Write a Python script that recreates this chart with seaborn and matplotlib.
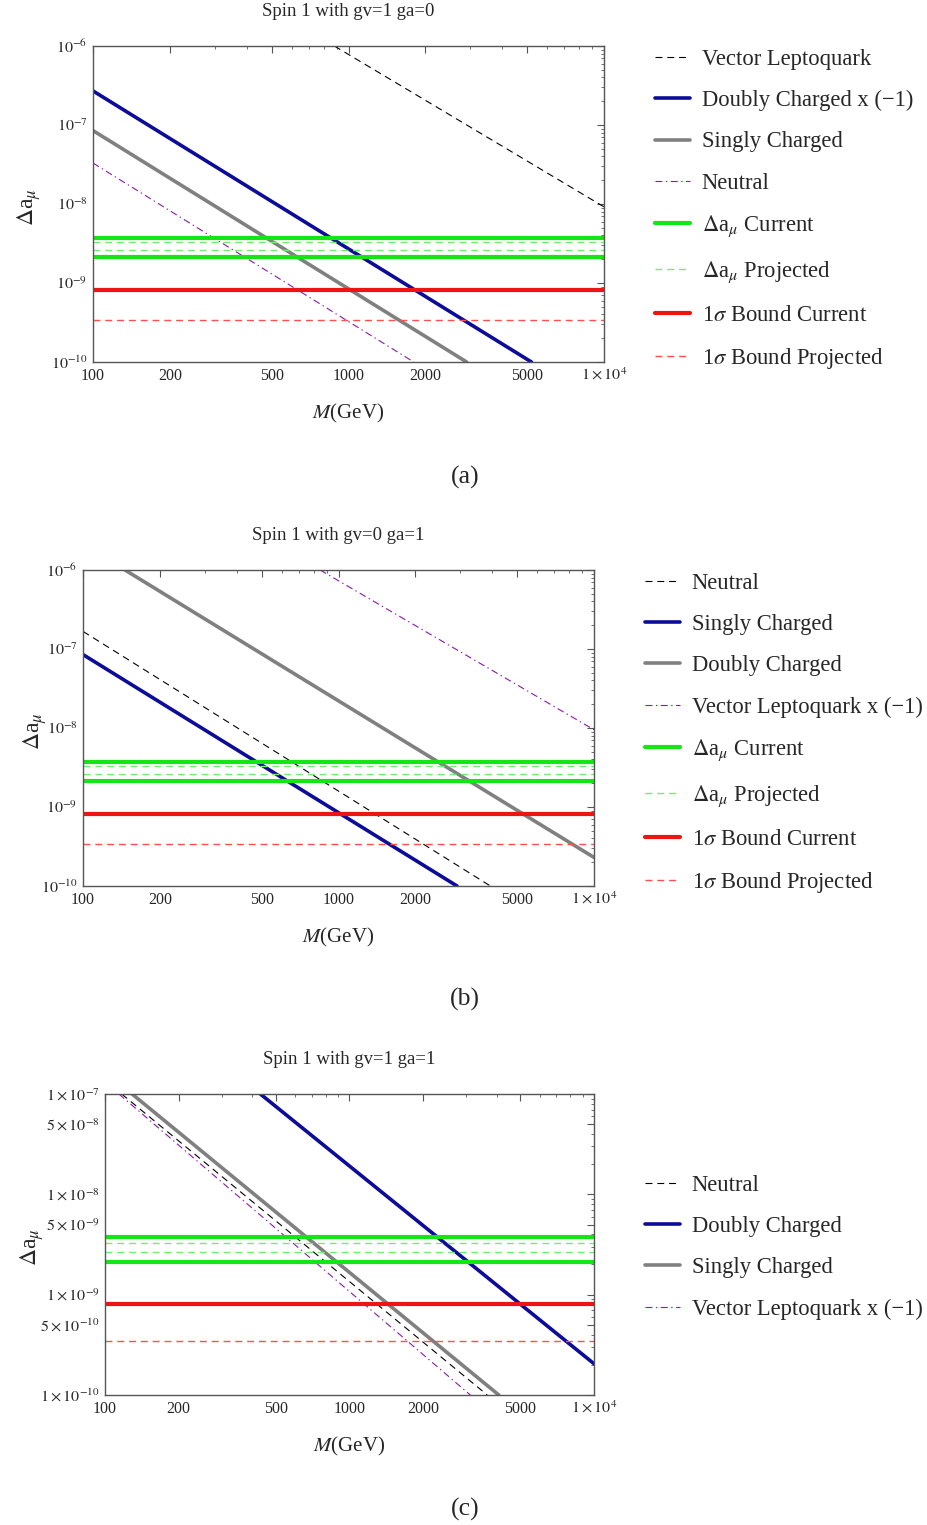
import numpy as np
import pandas as pd
import seaborn as sns
import matplotlib
matplotlib.use("Agg")
import matplotlib.pyplot as plt
from matplotlib.ticker import FixedLocator, FixedFormatter, LogLocator, NullFormatter
from matplotlib.lines import Line2D

# ---------------- data ----------------
# horizontal reference bands (shared by all panels)
da_current = [3.75e-9, 2.12e-9]
da_projected = [3.30e-9, 2.64e-9]
bound_current = [8.05e-10]
bound_projected = [3.42e-10]

# panel (a): Spin 1 with gv=1 ga=0
a_vlq_M = [880, 10000];      a_vlq_y = [1.0e-6, 9.2e-9]
a_doubly_M = [100, 5200];    a_doubly_y = [2.7e-7, 1.0e-10]
a_singly_M = [100, 2900];    a_singly_y = [8.5e-8, 1.0e-10]
a_neutral_M = [100, 1800];   a_neutral_y = [3.3e-8, 1.0e-10]

# panel (b): Spin 1 with gv=0 ga=1
b_neutral_M = [100, 3930];   b_neutral_y = [1.67e-7, 1.0e-10]
b_singly_M = [100, 2910];    b_singly_y = [8.5e-8, 1.0e-10]
b_doubly_M = [146, 10000];   b_doubly_y = [1.0e-6, 2.3e-10]
b_vlq_M = [847, 10000];      b_vlq_y = [1.0e-6, 9.5e-9]

# panel (c): Spin 1 with gv=1 ga=1
c_neutral_M = [117, 3660];   c_neutral_y = [1.0e-7, 1.0e-10]
c_doubly_M = [432, 10000];   c_doubly_y = [1.0e-7, 2.05e-10]
c_singly_M = [129, 4080];    c_singly_y = [1.0e-7, 1.0e-10]
c_vlq_M = [114, 3120];       c_vlq_y = [1.0e-7, 1.0e-10]

titles = ["Spin 1 with gv=1 ga=0", "Spin 1 with gv=0 ga=1", "Spin 1 with gv=1 ga=1"]
captions = ["(a)", "(b)", "(c)"]
x_tick_values = [100, 200, 500, 1000, 2000, 5000, 10000]
x_tick_labels = ["100", "200", "500", "1000", "2000", "5000", r"$1\times10^{4}$"]
y_tick_values_ab = [1e-10, 1e-9, 1e-8, 1e-7, 1e-6]
y_tick_labels_ab = [r"$10^{-10}$", r"$10^{-9}$", r"$10^{-8}$", r"$10^{-7}$", r"$10^{-6}$"]
y_tick_values_c = [1e-10, 5e-10, 1e-9, 5e-9, 1e-8, 5e-8, 1e-7]
y_tick_labels_c = [r"$1\times10^{-10}$", r"$5\times10^{-10}$", r"$1\times10^{-9}$",
                   r"$5\times10^{-9}$", r"$1\times10^{-8}$", r"$5\times10^{-8}$",
                   r"$1\times10^{-7}$"]

# ---------------- style ----------------
sns.set_style("white")
plt.rcParams["font.family"] = ["Liberation Serif", "DejaVu Serif"]
plt.rcParams["mathtext.fontset"] = "stix"
plt.rcParams["lines.scale_dashes"] = False

BLUE = "#0c0c98"
GRAY = "#808080"
GREEN = "#14e614"
LGREEN = "#70ee70"
RED = "#ee1414"
LRED = "#ff5050"
PURPLE = "#8a1aa8"
FRAME = "#555555"

S_BLACKDASH = dict(color="black", lw=0.8, linestyle=(0, (5, 3.5)))
S_BLUE = dict(color=BLUE, lw=2.6, linestyle="-")
S_GRAY = dict(color=GRAY, lw=2.6, linestyle="-")
S_PURPLE = dict(color=PURPLE, lw=0.8, linestyle=(0, (5, 2.5, 1, 2.5)))
S_GREEN = dict(color=GREEN, lw=3.0, linestyle="-")
S_LGREEN = dict(color=LGREEN, lw=1.0, linestyle=(0, (5, 3.5)))
S_RED = dict(color=RED, lw=3.0, linestyle="-")
S_LRED = dict(color=LRED, lw=1.0, linestyle=(0, (5, 3.5)))

W, H = 927, 1525
fig = plt.figure(figsize=(W / 100, H / 100), dpi=100)


def ax_at(left, top, right, bottom):
    return fig.add_axes([left / W, 1 - bottom / H, (right - left) / W, (bottom - top) / H])


def curve(ax, M, y, style):
    df = pd.DataFrame({"M": M, "y": y})
    sns.lineplot(data=df, x="M", y="y", ax=ax, legend=False, sort=False,
                 color=style["color"], lw=style["lw"], linestyle=style["linestyle"])


def hlines(ax, values, style):
    for v in values:
        ax.axhline(v, color=style["color"], lw=style["lw"], linestyle=style["linestyle"])


def frame(ax, ylim, ytv, ytl, ysubs, title, caption, ylab_x):
    ax.set_xscale("log")
    ax.set_yscale("log")
    ax.set_xlim(100, 10000)
    ax.set_ylim(*ylim)
    ax.xaxis.set_major_locator(FixedLocator(x_tick_values))
    ax.xaxis.set_major_formatter(FixedFormatter(x_tick_labels))
    ax.xaxis.set_minor_locator(LogLocator(base=10, subs=(3, 4, 6, 7, 8, 9)))
    ax.xaxis.set_minor_formatter(NullFormatter())
    ax.yaxis.set_major_locator(FixedLocator(ytv))
    ax.yaxis.set_major_formatter(FixedFormatter(ytl))
    ax.yaxis.set_minor_locator(LogLocator(base=10, subs=ysubs))
    ax.yaxis.set_minor_formatter(NullFormatter())
    ax.tick_params(which="both", direction="in", top=True, right=True,
                   color=FRAME, labelsize=11.5)
    ax.tick_params(which="major", length=5, width=0.8, pad=4)
    ax.tick_params(which="minor", length=2.5, width=0.6)
    for s in ax.spines.values():
        s.set_color(FRAME)
        s.set_linewidth(1.0)
    ax.set_xlabel(r"$M$(GeV)", fontsize=15, labelpad=13)
    ax.set_ylabel(r"$\Delta$a$_\mu$", fontsize=17)
    ax.yaxis.set_label_coords(ylab_x, 0.49)
    ax.text(0.5, 1 + 34 / (ax.get_position().height * H), title, transform=ax.transAxes,
            ha="center", va="center", fontsize=13.5)


def legend(ax, x, y, handles, labels):
    fig.legend(handles, labels, loc="upper left", bbox_to_anchor=(x / W, 1 - y / H),
               frameon=False, fontsize=16.3, handlelength=1.55, handletextpad=0.52,
               labelspacing=0.89, borderpad=0, borderaxespad=0)


def h(style):
    return Line2D([], [], color=style["color"], lw=style["lw"], linestyle=style["linestyle"])


band_labels = [r"$\Delta$a$_\mu$ Current", r"$\Delta$a$_\mu$ Projected",
               r"1$\sigma$ Bound Current", r"1$\sigma$ Bound Projected"]

# ---------------- panel (a) ----------------
ax = ax_at(93, 46, 604, 362)
curve(ax, a_vlq_M, a_vlq_y, S_BLACKDASH)
curve(ax, a_doubly_M, a_doubly_y, S_BLUE)
curve(ax, a_singly_M, a_singly_y, S_GRAY)
curve(ax, a_neutral_M, a_neutral_y, S_PURPLE)
hlines(ax, da_current, S_GREEN)
hlines(ax, da_projected, S_LGREEN)
hlines(ax, bound_current, S_RED)
hlines(ax, bound_projected, S_LRED)
frame(ax, (1e-10, 1e-6), y_tick_values_ab, y_tick_labels_ab, (2, 3, 4, 5, 6, 7, 8, 9),
      titles[0], captions[0], -0.098)
legend(ax, 655, 49,
       [h(S_BLACKDASH), h(S_BLUE), h(S_GRAY), h(S_PURPLE), h(S_GREEN), h(S_LGREEN), h(S_RED), h(S_LRED)],
       ["Vector Leptoquark", "Doubly Charged x (\u22121)", "Singly Charged", "Neutral"] + band_labels)
fig.text(465 / W, 1 - 477 / H, captions[0], ha="center", va="center", fontsize=18.5)

# ---------------- panel (b) ----------------
ax = ax_at(83, 570, 594, 886)
curve(ax, b_neutral_M, b_neutral_y, S_BLACKDASH)
curve(ax, b_singly_M, b_singly_y, S_BLUE)
curve(ax, b_doubly_M, b_doubly_y, S_GRAY)
curve(ax, b_vlq_M, b_vlq_y, S_PURPLE)
hlines(ax, da_current, S_GREEN)
hlines(ax, da_projected, S_LGREEN)
hlines(ax, bound_current, S_RED)
hlines(ax, bound_projected, S_LRED)
frame(ax, (1e-10, 1e-6), y_tick_values_ab, y_tick_labels_ab, (2, 3, 4, 5, 6, 7, 8, 9),
      titles[1], captions[1], -0.066)
legend(ax, 645, 573,
       [h(S_BLACKDASH), h(S_BLUE), h(S_GRAY), h(S_PURPLE), h(S_GREEN), h(S_LGREEN), h(S_RED), h(S_LRED)],
       ["Neutral", "Singly Charged", "Doubly Charged", "Vector Leptoquark x (\u22121)"] + band_labels)
fig.text(465 / W, 1 - 999 / H, captions[1], ha="center", va="center", fontsize=18.5)

# ---------------- panel (c) ----------------
ax = ax_at(105, 1094, 594, 1395)
curve(ax, c_neutral_M, c_neutral_y, S_BLACKDASH)
curve(ax, c_doubly_M, c_doubly_y, S_BLUE)
curve(ax, c_singly_M, c_singly_y, S_GRAY)
curve(ax, c_vlq_M, c_vlq_y, S_PURPLE)
hlines(ax, da_current, S_GREEN)
hlines(ax, da_projected, S_LGREEN)
hlines(ax, bound_current, S_RED)
hlines(ax, bound_projected, S_LRED)
frame(ax, (1e-10, 1e-7), y_tick_values_c, y_tick_labels_c, (2, 3, 4, 6, 7, 8, 9),
      titles[2], captions[2], -0.12)
legend(ax, 645, 1175,
       [h(S_BLACKDASH), h(S_BLUE), h(S_GRAY), h(S_PURPLE)],
       ["Neutral", "Doubly Charged", "Singly Charged", "Vector Leptoquark x (\u22121)"])
fig.text(465 / W, 1 - 1509 / H, captions[2], ha="center", va="center", fontsize=18.5)

fig.savefig("out.png", dpi=100)
